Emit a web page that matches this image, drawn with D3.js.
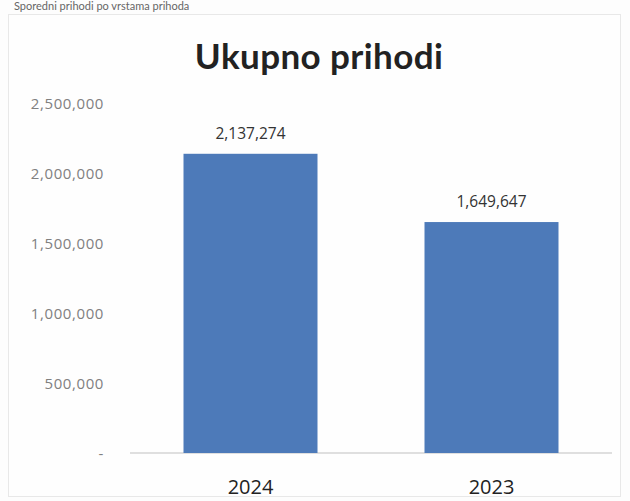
<!DOCTYPE html>
<html><head><meta charset="utf-8">
<script src="https://cdn.jsdelivr.net/npm/d3@7/dist/d3.min.js"></script>
<style>
html,body{margin:0;padding:0;background:#fdfdfd;}
svg{display:block;}
</style></head>
<body>
<svg id="c" width="630" height="501"></svg>
<script>
const title = "Ukupno prihodi";
const pageText = "Sporedni prihodi po vrstama prihoda";
const categories = ["2024", "2023"];
const values = [2137274, 1649647];
const yTicks = [0, 500000, 1000000, 1500000, 2000000, 2500000];

const svg = d3.select("#c");
const m = {left: 130, right: 612, top: 103, bottom: 453};

svg.append("rect").attr("x", 8.5).attr("y", 14.5).attr("width", 612).attr("height", 482)
  .attr("fill", "#fefefe").attr("stroke", "#e8e8e8").attr("stroke-width", 1);

svg.append("text").attr("x", 14).attr("y", 10).attr("font-family", "Lato, sans-serif")
  .attr("font-size", 11).attr("fill", "#666").text(pageText);

const x = d3.scaleBand().domain(categories).range([m.left, m.right]).paddingInner(0.82).paddingOuter(0.41);
const y = d3.scaleLinear().domain([0, 2500000]).range([m.bottom, m.top]);

svg.append("text").attr("x", 319).attr("y", 69).attr("text-anchor", "middle")
  .attr("font-family", "Lato, sans-serif").attr("font-weight", "bold").attr("font-size", 35)
  .attr("letter-spacing", 0.4).attr("fill", "#222").text(title);

const fmt = d3.format(",");
const yAxis = d3.axisLeft(y).tickValues(yTicks).tickSize(0).tickPadding(0)
  .tickFormat(d => d === 0 ? "-" : fmt(d));
const ga = svg.append("g").attr("transform", `translate(104,0)`).call(yAxis);
ga.select(".domain").remove();
ga.selectAll("text").attr("font-family", "'Open Sans', sans-serif")
  .attr("font-size", 15).attr("letter-spacing", 0.6).attr("fill", "#808080").attr("dy", "0.35em");

svg.append("line").attr("x1", m.left).attr("x2", m.right).attr("y1", m.bottom).attr("y2", m.bottom)
  .attr("stroke", "#d4d4d4").attr("stroke-width", 1.5);

const bw = 134;
svg.selectAll("rect.bar").data(values).join("rect").attr("class", "bar")
  .attr("x", (d, i) => x(categories[i]) + x.bandwidth() / 2 - bw / 2)
  .attr("width", bw)
  .attr("y", d => y(d)).attr("height", d => m.bottom - y(d))
  .attr("fill", "#4d7ab9");

svg.selectAll("text.val").data(values).join("text").attr("class", "val")
  .attr("x", (d, i) => x(categories[i]) + x.bandwidth() / 2)
  .attr("y", d => y(d) - 15).attr("text-anchor", "middle")
  .attr("font-family", "'Open Sans', sans-serif").attr("font-size", 15.5).attr("fill", "#333")
  .text(d => fmt(d));

svg.selectAll("text.cat").data(categories).join("text").attr("class", "cat")
  .attr("x", d => x(d) + x.bandwidth() / 2).attr("y", 494).attr("text-anchor", "middle")
  .attr("font-family", "'Open Sans', sans-serif").attr("font-size", 20).attr("fill", "#222")
  .text(d => d);
</script>
</body></html>
